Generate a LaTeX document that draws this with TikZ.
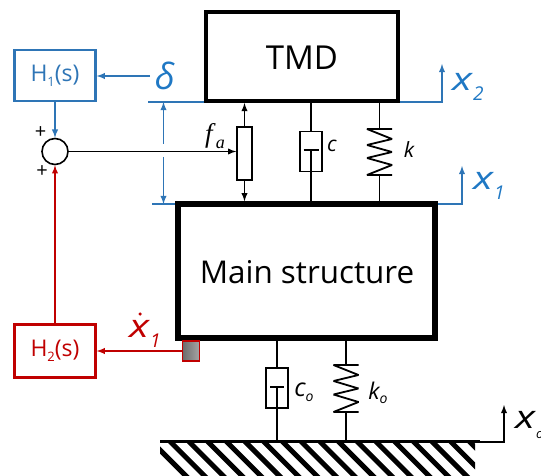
\documentclass[tikz,border=0pt]{standalone}
\usepackage{fontspec}
\setmainfont{Open Sans}
\newfontfamily\serifitalic{Liberation Serif}
\usetikzlibrary{positioning,calc}

\definecolor{ctrlblue}{HTML}{2E75B6}
\definecolor{labelblue}{HTML}{1F78C4}
\definecolor{ctrlred}{HTML}{C00000}

\newcommand{\subtext}[4][19]{\fontsize{#4}{#4}\selectfont\scalebox{1.3}[1]{\textit{#2}}\raisebox{-.3em}{\fontsize{#1}{#1}\selectfont\textit{#3}}}
\newcommand{\hname}[1]{\fontsize{23}{23}\selectfont H\raisebox{-.2em}{\fontsize{13}{13}\selectfont #1}(s)}

\tikzstyle{massnode} = [rectangle, draw, line width=4pt, inner sep=0pt]
\tikzstyle{ctrlnode} = [rectangle, draw, line width=2.4pt, inner sep=0pt, minimum width=81pt]
\tikzstyle{dampnode} = [rectangle, draw, line width=1.6pt, inner sep=0pt, minimum width=22pt, minimum height=40pt]
\tikzstyle{textnode} = [inner sep=0pt]
\tikzstyle{wire} = [line width=1.8pt]

\begin{document}
\begin{tikzpicture}[x=1pt, y=-1pt, >=latex, node distance = 68pt]
        \useasboundingbox (0,0) rectangle (541,476);

        % masses
        \node [massnode, minimum width=192pt, minimum height=89pt] (tmd) at (302,56.5) {};
        \node [massnode, line width=5.5pt, minimum width=257pt, minimum height=134pt] (main) at (306.7,271) {};
        \node [textnode, font=\fontsize{33}{33}\selectfont] (tmdtext) at (302,58) {TMD};
        \node [textnode, font=\fontsize{31.4}{31.4}\selectfont] (maintext) at (307,272) {Main structure};

        % dampers
        \node [dampnode] (c) at (311,151.7) {};
        \node [dampnode] (co) at (277,388) {};
        \coordinate (cpiston) at (311,150);
        \coordinate (copiston) at (277,387);
        \node [textnode, font=\itshape\fontsize{21}{21}\selectfont] (clabel) at (332,146) {c};
        \node [textnode, font=\itshape\fontsize{25}{25}\selectfont] (colabel) at (304,392) {c\raisebox{-.2em}{\fontsize{14}{14}\selectfont o}};

        % springs
        \coordinate (ktop) at (379.5,129);
        \coordinate (kbot) at (379.5,175);
        \coordinate (kotop) at (346,365);
        \coordinate (kobot) at (346,412);
        \node [textnode, font=\itshape\fontsize{21}{21}\selectfont] (klabel) at (409,150) {k};
        \node [textnode, font=\itshape\fontsize{23}{23}\selectfont] (kolabel) at (378,393) {k\raisebox{-.2em}{\fontsize{14}{14}\selectfont o}};

        % actuator
        \node [rectangle, draw, line width=1.6pt, inner sep=0pt, minimum width=15pt, minimum height=53pt] (fa) at (244.5,153.3) {};
        \node [textnode, font=\serifitalic\fontsize{27}{27}\selectfont] (falabel) at (215,136) {\textit{f}\raisebox{-.2em}{\fontsize{18}{18}\selectfont\textit{a}}};

        % ground
        \coordinate (gleft) at (160,441.5);
        \coordinate (gright) at (480,441.5);
        \begin{scope}
            \clip (160,441) rectangle (475,476);
            \foreach \i in {0,...,19} {
                \draw [line width=5pt] (140+18.7*\i,430) -- (195+18.7*\i,485);
            }
        \end{scope}
        \draw [line width=3pt] (gleft) -- (gright);
        \coordinate (xocorner) at (504,442);
        \coordinate (xotip) at (504,405);
        \draw [->, wire] (gright |- xocorner) -- (xocorner) -- (xotip);
        \node [textnode, anchor=west] (xolabel) at (515,425) {\subtext[13]{x}{o}{32}};

        % connections
        \draw [wire] (tmd.south -| cpiston) -- (c.north);
        \draw [wire] (cpiston) -- (main.north -| cpiston);
        \draw [wire] (c.center |- cpiston) ++(-7.5,0) -- ++(15,0);
        \draw [wire] (main.south -| copiston) -- (co.north);
        \draw [wire] (copiston) -- (gleft -| copiston);
        \draw [wire] (co.center |- copiston) ++(-7,0) -- ++(14,0);

        \draw [wire] (tmd.south -| ktop) -- (ktop);
        \draw [wire] (kbot) -- (main.north -| kbot);
        \draw [wire, line join=bevel] ($(ktop)+(12.5,0)$) -- ($(ktop)+(-12.5,0)$) -- ++(25,10) -- ++(-25,6) -- ++(25,7) -- ++(-25,6) -- ++(25,7) -- ++(-25,10) -- ($(kbot)+(12.5,0)$);

        \draw [wire] (main.south -| kotop) -- (kotop);
        \draw [wire] (kobot) -- (gleft -| kobot);
        \draw [wire, line join=bevel] ($(kotop)+(12.5,0)$) -- ($(kotop)+(-12.5,0)$) -- ++(25,10) -- ++(-25,6) -- ++(25,7.5) -- ++(-25,6) -- ++(25,7.5) -- ++(-25,10) -- ($(kobot)+(12.5,0)$);

        \draw [->, wire] (fa.north) -- (tmd.south -| fa);
        \draw [->, wire] (fa.south) -- (main.north -| fa);

        % blue feedback
        \node [ctrlnode, draw=ctrlblue, text=ctrlblue, minimum height=51pt] (h1) at (55,75.5) {\hname{1}};
        \node [circle, draw, line width=1.6pt, inner sep=0pt, minimum size=26pt, below of=h1, node distance=76pt] (sum) {};
        \node [textnode, text=labelblue, font=\fontsize{36}{36}\selectfont] (delta) at (165,76) {\textit{δ}};
        \node [textnode, font=\fontsize{20}{20}\selectfont] (plusa) at (40.5,133) {+};
        \node [textnode, font=\fontsize{20}{20}\selectfont] (plusb) at (42,172) {+};
        \coordinate (deltaend) at (150,76);
        \draw [->, wire, ctrlblue] (deltaend) -- (h1.east |- deltaend);
        \draw [->, wire, ctrlblue] (h1.south) -- (sum.north);
        \draw [->, wire] (sum.east) -- (fa.west |- sum.east);

        \coordinate (gapa) at (148,102);
        \coordinate (gapb) at (152,204);
        \draw [wire, ctrlblue] (gapa) -- (tmd.south west |- gapa);
        \draw [wire, ctrlblue] (gapb) -- (main.west |- gapb);
        \coordinate (gaptop) at (163.5,144);
        \coordinate (gapbot) at (163.5,157);
        \draw [->, wire, ctrlblue] (gaptop) -- (gapa -| gaptop);
        \draw [->, wire, ctrlblue] (gapbot) -- (gapb -| gapbot);

        \coordinate (xtwocorner) at (442,102);
        \coordinate (xtwotip) at (442,64);
        \draw [->, wire, ctrlblue] (tmd.east |- xtwocorner) -- (xtwocorner) -- (xtwotip);
        \node [textnode, text=labelblue, anchor=west] (xtwolabel) at (452,87) {\subtext{x}{2}{32}};

        \coordinate (xonecorner) at (462,204);
        \coordinate (xonetip) at (462,166);
        \draw [->, wire, ctrlblue] (main.east |- xonecorner) -- (xonecorner) -- (xonetip);
        \node [textnode, text=labelblue, anchor=west] (xonelabel) at (473,186) {\subtext{x}{1}{32}};

        % red feedback
        \node [ctrlnode, draw=ctrlred, text=ctrlred, minimum height=53pt] (h2) at (55,351) {\hname{2}};
        \node [rectangle, draw=ctrlred, line width=1.6pt, inner sep=0pt, minimum width=17pt, minimum height=20pt, left color=gray!85!black, right color=gray!70] (sensor) at (191,351) {};
        \draw [->, wire, ctrlred] (sensor.west) -- (h2.east);
        \draw [->, wire, ctrlred] (h2.north) -- (sum.south);
        \node [textnode, text=ctrlred, anchor=west] (xdotlabel) at (129,334) {\subtext{x}{1}{32}};
        \node [circle, fill=ctrlred, inner sep=0pt, minimum size=3.5pt] (xdot) at (140,314) {};
\end{tikzpicture}
\end{document}
